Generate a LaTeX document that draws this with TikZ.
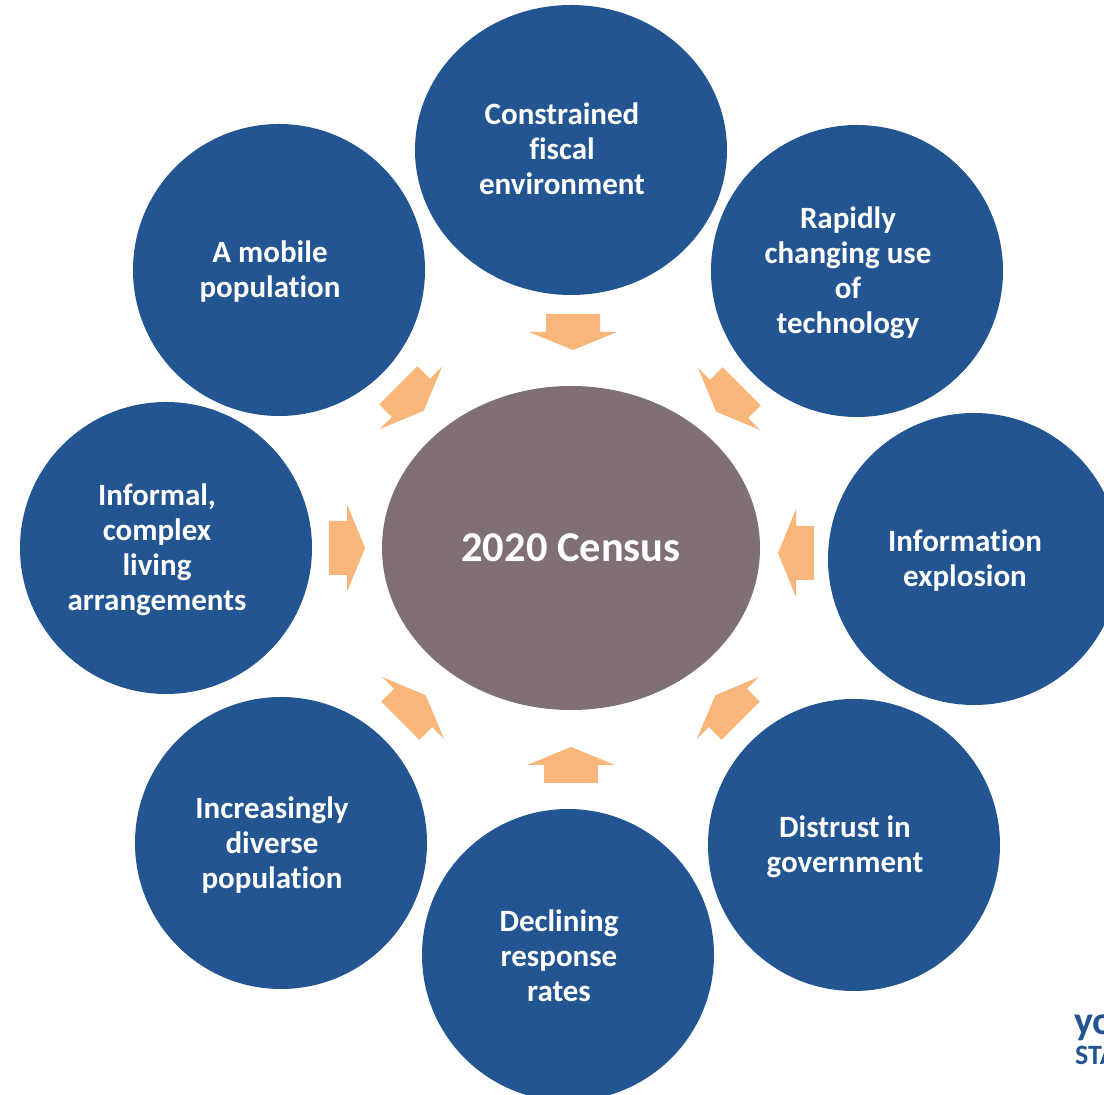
\documentclass[tikz,border=0pt]{standalone}
\usepackage{fontspec}
\setmainfont{Carlito}[Ligatures={NoCommon}]
\usepackage{tikz}
\usetikzlibrary{shapes.geometric}

\definecolor{censusblue}{RGB}{34,85,145}
\definecolor{censusgray}{RGB}{128,112,115}
\definecolor{censusorange}{RGB}{249,182,122}

\tikzset{
  factor/.style={ellipse, fill=censusblue, inner sep=0pt,
    minimum width=292pt, minimum height=292pt},
  factortext/.style={text=white, align=center, inner sep=0pt,
    font=\bfseries\fontsize{31}{35}\selectfont},
  hub/.style={ellipse, fill=censusgray, inner sep=0pt,
    minimum width=378pt, minimum height=324pt, text=white,
    font=\bfseries\fontsize{42.5}{48}\selectfont},
}

\begin{document}
\begin{tikzpicture}[x=1pt,y=1pt]
		\clip (0,0) rectangle (1104,1095);
		\fill[white] (0,0) rectangle (1104,1095);

		% Koordinaten
		\coordinate (m) at (571,547);
		\coordinate (k_top) at (571,945);
		\coordinate (k_tr) at (857,824);
		\coordinate (k_r) at (974,536);
		\coordinate (k_br) at (854,250);
		\coordinate (k_b) at (568,140);
		\coordinate (k_bl) at (281,252);
		\coordinate (k_l) at (166,547);
		\coordinate (k_tl) at (279,825);

		% Mitte
		\node[hub] (census) at (m) {2020 Census};

		% Kreise
		\node[factor, minimum width=312pt, minimum height=290pt] (fiscal) at (k_top) {};
		\node[factor] (tech) at (k_tr) {};
		\node[factor] (info) at (k_r) {};
		\node[factor] (distrust) at (k_br) {};
		\node[factor] (response) at (k_b) {};
		\node[factor] (diverse) at (k_bl) {};
		\node[factor] (living) at (k_l) {};
		\node[factor] (mobile) at (k_tl) {};

		% Texte
		\node[factortext] (fiscal_t) at ([xshift=-9pt,yshift=1pt]fiscal.center) {Constrained\\fiscal\\environment};
		\node[factortext] (tech_t) at ([xshift=-9pt,yshift=-2pt]tech.center) {Rapidly\\changing use\\of\\technology};
		\node[factortext] (info_t) at ([xshift=-9pt,yshift=-2pt]info.center) {Information\\explosion};
		\node[factortext] (distrust_t) at ([xshift=-9pt,yshift=-2pt]distrust.center) {Distrust in\\government};
		\node[factortext] (response_t) at ([xshift=-9pt,yshift=-1pt]response.center) {Declining\\response\\rates};
		\node[factortext] (diverse_t) at ([xshift=-9pt,yshift=-2pt]diverse.center) {Increasingly\\diverse\\population};
		\node[factortext] (living_t) at ([xshift=-9pt,yshift=-2pt]living.center) {Informal,\\complex\\living\\arrangements};
		\node[factortext] (mobile_t) at ([xshift=-9pt,yshift=-2pt]mobile.center) {A mobile\\population};

		% Pfeile
		\foreach \x/\y/\w in {573/763/-90, 729/696/-135, 796/542/180, 728/387/135,
		                      571/330/90, 413/387/45, 347/547/0, 411/697/-45}
		{
			\fill[censusorange, shift={(\x,\y)}, rotate=\w]
				(-18,-27) -- (0,-27) -- (0,-44) -- (18,0) -- (0,44) -- (0,27) -- (-18,27) -- cycle;
		}

		% Logo
		\node[anchor=base west, inner sep=0pt, text=censusblue, font=\bfseries\fontsize{40}{40}\selectfont] (logo1) at (1074,60) {yo};
		\node[anchor=base west, inner sep=0pt, text=censusblue, font=\bfseries\fontsize{28}{28}\selectfont] (logo2) at (1075,30) {STA};
	\end{tikzpicture}
\end{document}
